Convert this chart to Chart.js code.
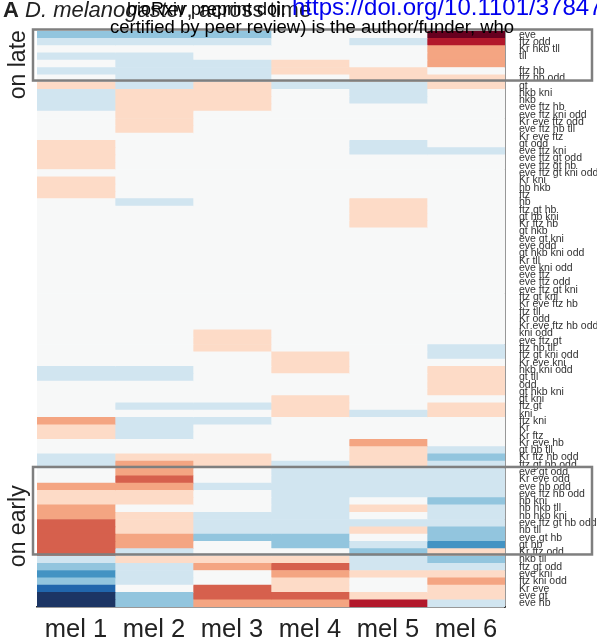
<!DOCTYPE html>
<html>
<head>
<meta charset="utf-8">
<script src="https://cdn.jsdelivr.net/npm/chart.js@4.4.1/dist/chart.umd.min.js"></script>
<style>
  html, body { margin: 0; padding: 0; background: #fff; }
  #wrap { position: relative; width: 597px; height: 644px; overflow: hidden; font-family: Arial, "Liberation Sans", sans-serif; }
  #heat { position: absolute; left: 0; top: 0; }
  .txt { position: absolute; white-space: nowrap; line-height: 1; }
</style>
</head>
<body>
<div id="wrap">
  <canvas id="heat" width="597" height="644"></canvas>
  <div class="txt" style="left:3px; top:-1.5px; font-size:22px; color:#222"><b>A</b> <i>D. melanogaster</i>, across time</div>
  <div class="txt" style="left:127px; top:0px; font-size:18px; color:#000">bioRxiv preprint doi:</div>
  <div class="txt" style="left:292px; top:-5px; font-size:24px; color:#0000ee">https://doi.org/10.1101/378477</div>
  <div class="txt" style="left:110px; top:18px; font-size:18.5px; color:#000">certified by peer review) is the author/funder, who</div>
</div>
<script>
// columns of the heatmap
const columns = ['mel 1', 'mel 2', 'mel 3', 'mel 4', 'mel 5', 'mel 6'];

// row labels, top to bottom
const rowLabels = [
  'eve', 'ftz odd', 'Kr hkb tll', 'tll', '', 'ftz hb', 'ftz hb odd', 'gt', 'hkb kni', 'hkb',
  'eve ftz hb', 'eve ftz kni odd', 'Kr eve ftz odd', 'eve ftz hb tll', 'Kr eve ftz', 'gt odd', 'eve ftz kni', 'eve ftz gt odd', 'eve ftz gt hb', 'eve ftz gt kni odd',
  'Kr kni', 'hb hkb', 'ftz', 'hb', 'ftz gt hb', 'gt hb kni', 'Kr ftz hb', 'gt hkb', 'eve gt kni', 'eve odd',
  'gt hkb kni odd', 'Kr tll', 'eve kni odd', 'eve ftz', 'eve ftz odd', 'eve ftz gt kni', 'ftz gt kni', 'Kr eve ftz hb', 'ftz tll', 'Kr odd',
  'Kr eve ftz hb odd', 'kni odd', 'eve ftz gt', 'ftz hb tll', 'ftz gt kni odd', 'Kr eve kni', 'hkb kni odd', 'gt tll', 'odd', 'gt hkb kni',
  'gt kni', 'ftz gt', 'kni', 'ftz kni', 'Kr', 'Kr ftz', 'Kr eve hb', 'gt hb tll', 'Kr ftz hb odd', 'ftz gt hb odd',
  'eve gt odd', 'Kr eve odd', 'eve hb odd', 'eve ftz hb odd', 'hb kni', 'hb hkb tll', 'hb hkb kni', 'eve ftz gt hb odd', 'hb tll', 'eve gt hb',
  'gt hb', 'Kr ftz odd', 'hkb tll', 'ftz gt odd', 'eve kni', 'ftz kni odd', 'Kr eve', 'eve gt', 'eve hb'
];

// binned enrichment per column (-5 .. 5), one value per row
const mel1 = [
  -2, -1, 0, -1, 0, -1, 0, 1, -1, -1,
  -1, 0, 0, 0, 0, 1, 1, 1, 1, 0,
  1, 1, 1, 0, 0, 0, 0, 0, 0, 0,
  0, 0, 0, 0, 0, 0, 0, 0, 0, 0,
  0, 0, 0, 0, 0, 0, -1, -1, 0, 0,
  0, 0, 0, 2, 1, 1, 0, 0, -1, -1,
  0, 0, 2, 1, 1, 2, 2, 3, 3, 3,
  3, 3, -1, -2, -3, -2, -4, -5, -5
];
const mel2 = [
  -2, -1, 0, -1, -1, -1, -1, -1, 1, 1,
  1, 1, 1, 1, 0, 0, 0, 0, 0, 0,
  0, 0, 0, -1, 0, 0, 0, 0, 0, 0,
  0, 0, 0, 0, 0, 0, 0, 0, 0, 0,
  0, 0, 0, 0, 0, 0, -1, -1, 0, 0,
  0, -1, 0, -1, -1, -1, 0, 0, 1, 2,
  2, 3, 2, 1, 1, 0, 1, 1, 1, 2,
  2, -1, 1, -1, -1, -1, 0, -2, -2
];
const mel3 = [
  -2, -1, 0, 0, -1, -1, -1, 1, 1, 1,
  1, 0, 0, 0, 0, 0, 0, 0, 0, 0,
  0, 0, 0, 0, 0, 0, 0, 0, 0, 0,
  0, 0, 0, 0, 0, 0, 0, 0, 0, 0,
  0, 1, 1, 1, 0, 0, 0, 0, 0, 0,
  0, -1, 0, -1, 0, 0, 0, 0, 1, 1,
  0, 0, -1, 0, 0, 0, -1, -1, -1, -2,
  0, 0, 1, 2, 0, 0, 3, 3, 2
];
const mel4 = [
  0, 0, 0, 0, 1, 1, 0, -1, 0, 0,
  0, 0, 0, 0, 0, 0, 0, 0, 0, 0,
  0, 0, 0, 0, 0, 0, 0, 0, 0, 0,
  0, 0, 0, 0, 0, 0, 0, 0, 0, 0,
  0, 0, 0, 0, 1, 1, 1, 0, 0, 0,
  1, 1, 1, 0, 0, 0, 0, 0, 0, -1,
  -1, -1, -1, -1, -1, -1, -1, -1, -1, -2,
  -2, 0, 1, 3, 2, 1, 1, 3, 2
];
const mel5 = [
  0, -1, 0, 0, 0, 1, 1, -1, -1, -1,
  0, 0, 0, 0, 0, -1, -1, 0, 0, 0,
  0, 0, 0, 1, 1, 1, 1, 0, 0, 0,
  0, 0, 0, 0, 0, 0, 0, 0, 0, 0,
  0, 0, 0, 0, 0, 0, 0, 0, 0, 0,
  0, 0, -1, 0, 0, 0, 2, 1, 1, 1,
  -1, -1, -1, -1, 0, 1, 0, -1, 1, 0,
  -1, -2, -1, -1, 1, 0, 0, 1, 4
];
const mel6 = [
  5, 4, 2, 2, 2, 0, 1, 1, 0, 0,
  0, 0, 0, 0, 0, 0, -1, 0, 0, 0,
  0, 0, 0, 0, 0, 0, 0, 0, 0, 0,
  0, 0, 0, 0, 0, 0, 0, 0, 0, 0,
  0, 0, 0, -1, -1, 0, 1, 1, 1, 1,
  0, 1, 1, 0, 0, 0, 0, -1, -2, -1,
  -1, -1, -1, -1, -2, -1, -1, -1, -2, -2,
  -3, 1, -2, -1, 1, 2, 1, 1, -1
];
const series = [mel1, mel2, mel3, mel4, mel5, mel6];

// highlighted groups (first and last row label)
const groups = [
  { label: 'on late', first: 'eve', last: 'ftz hb odd' },
  { label: 'on early', first: 'eve gt odd', last: 'Kr ftz odd' }
];

// RdBu, -5 .. 5
const palette = ['#1c3564', '#2166ac', '#4393c3', '#92c5de', '#d1e5f0', '#f7f8f8',
                 '#fddbc7', '#f4a582', '#d6604d', '#b2182b', '#67001f'];

const boxPlugin = {
  id: 'groupBoxes',
  afterDraw(chart) {
    const ctx = chart.ctx;
    const y = chart.scales.y;
    const area = chart.chartArea;
    const half = (y.getPixelForValue(1) - y.getPixelForValue(0)) / 2;
    ctx.save();
    groups.forEach(g => {
      const top = y.getPixelForValue(rowLabels.indexOf(g.first)) - half;
      const bottom = y.getPixelForValue(rowLabels.indexOf(g.last)) + half;
      ctx.strokeStyle = '#7f7f7f';
      ctx.lineWidth = 2.5;
      ctx.strokeRect(area.left - 4, top - 1.5, chart.width - 5 - (area.left - 4), bottom - top);
      // side label, placed a bit below the box middle
      ctx.save();
      ctx.translate(19, top + 0.66 * (bottom - top));
      ctx.rotate(-Math.PI / 2);
      ctx.textAlign = 'center';
      ctx.textBaseline = 'middle';
      ctx.font = '23px Arial, "Liberation Sans", sans-serif';
      ctx.fillStyle = '#222';
      ctx.fillText(g.label, 0, 0);
      ctx.restore();
    });
    ctx.restore();
  }
};

new Chart(document.getElementById('heat').getContext('2d'), {
  type: 'bar',
  data: {
    labels: rowLabels,
    datasets: series.map((vals, j) => ({
      label: columns[j],
      data: vals.map(() => [j, j + 1]),
      backgroundColor: vals.map(v => palette[v + 5]),
      borderWidth: 0,
      barPercentage: 1,
      categoryPercentage: 1
    }))
  },
  options: {
    indexAxis: 'y',
    responsive: false,
    devicePixelRatio: 1,
    animation: false,
    layout: { padding: { left: 37, top: 31, right: 0, bottom: 0 } },
    plugins: { legend: { display: false }, tooltip: { enabled: false } },
    datasets: { bar: { grouped: false } },
    scales: {
      x: {
        type: 'linear', min: 0, max: 6, position: 'bottom',
        grid: { display: false },
        border: { display: true, color: '#333', width: 1.5 },
        afterBuildTicks: axis => { axis.ticks = columns.map((c, i) => ({ value: i + 0.5 })); },
        afterFit: scale => { scale.height = 37; },
        ticks: {
          autoSkip: false, maxRotation: 0, padding: 0, color: '#222',
          font: { family: 'Arial, "Liberation Sans", sans-serif', size: 25.5 },
          callback: (v, i) => columns[i]
        }
      },
      y: {
        type: 'category', position: 'right',
        grid: { display: false },
        border: { display: true, color: '#333', width: 1.5 },
        afterFit: scale => { scale.width = 92; },
        ticks: {
          autoSkip: false, padding: 6, color: '#333',
          font: { family: 'Arial, "Liberation Sans", sans-serif', size: 10.5 }
        }
      }
    }
  },
  plugins: [boxPlugin]
});
</script>
</body>
</html>
